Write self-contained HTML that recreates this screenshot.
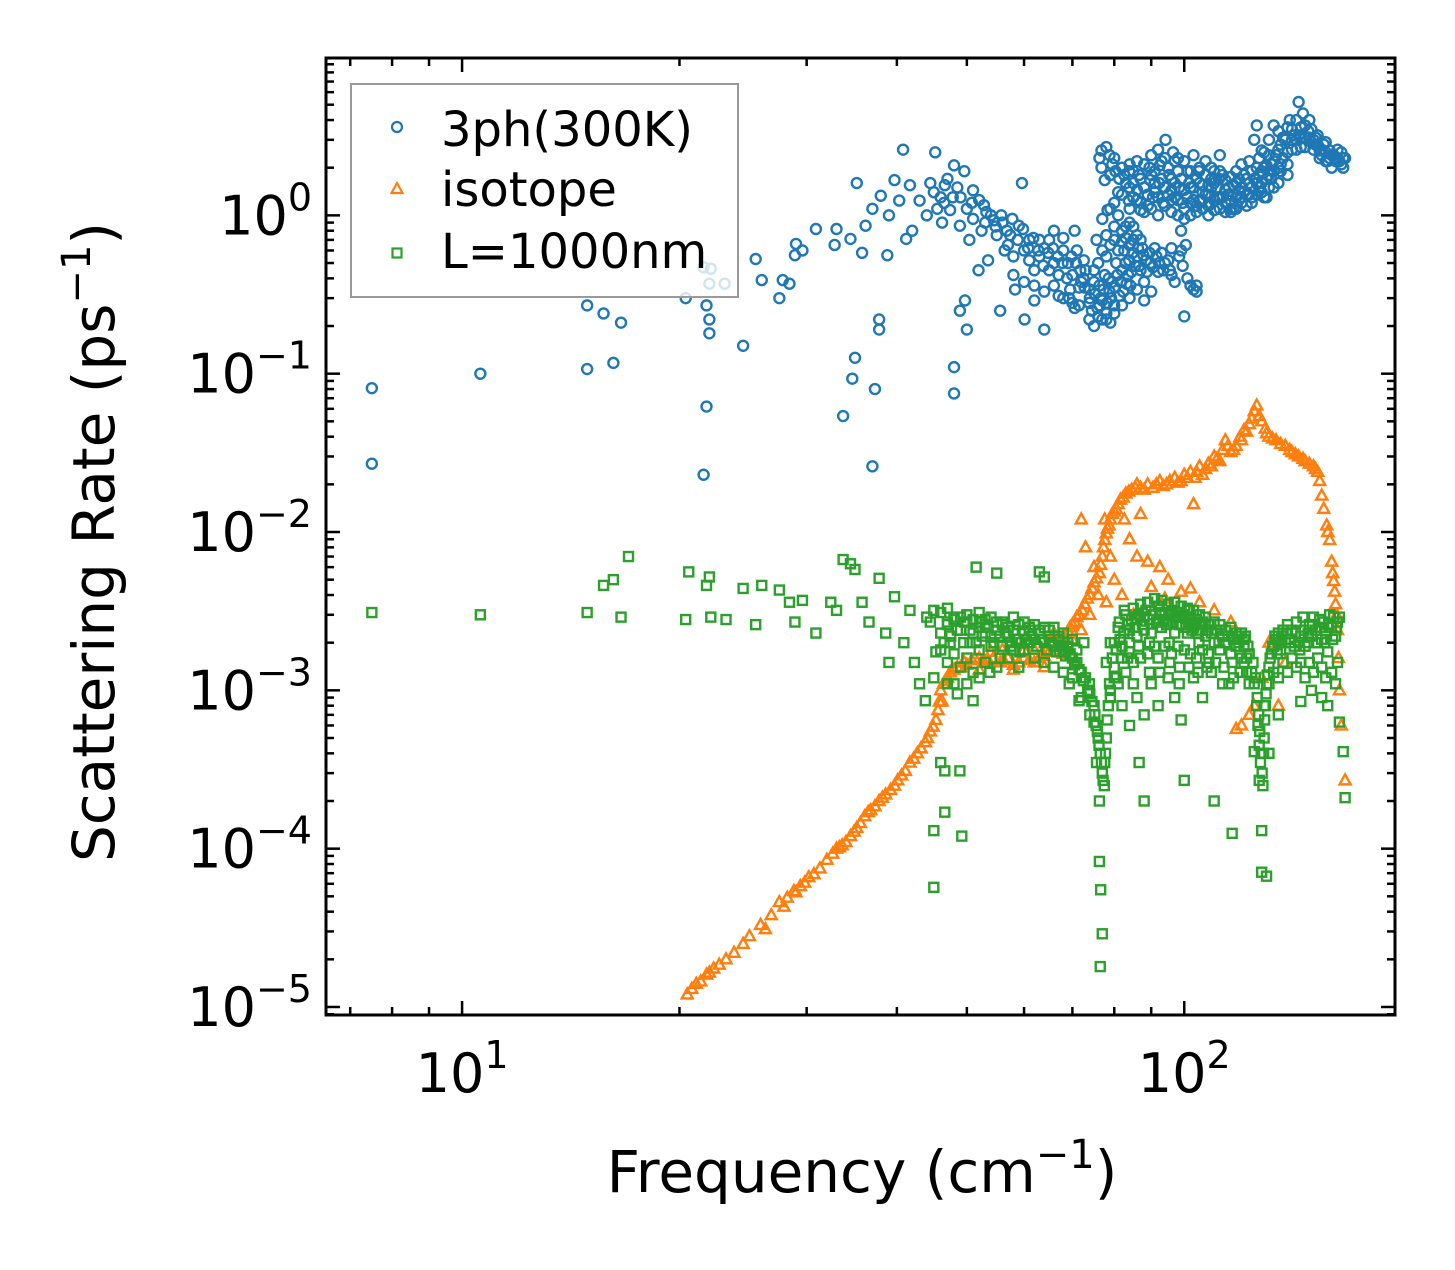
<!DOCTYPE html>
<html><head><meta charset="utf-8"><style>
body{margin:0;background:#fff}
svg text{font-family:"DejaVu Sans","Liberation Sans",sans-serif;fill:#000}
</style></head><body>
<svg id="chart" width="1455" height="1265" viewBox="0 0 1455 1265" xmlns="http://www.w3.org/2000/svg">
<rect x="0" y="0" width="1455" height="1265" fill="#fff"/>
<g id="marks"></g>
<g id="axes"></g>
<g id="legend">
<rect x="351" y="84" width="387" height="213" fill="#fff" fill-opacity="0.8" stroke="#999" stroke-width="2"/>
<g><circle cx="397" cy="127" r="5" fill="none" stroke="#1f77b4" stroke-width="2.2"/><text x="441" y="146" font-size="48">3ph(300K)</text></g>
<g><polygon points="397,183 391.5,193 402.5,193" fill="none" stroke="#ff7f0e" stroke-width="2.2"/><text x="441" y="206" font-size="48">isotope</text></g>
<g><rect x="392.5" y="248.5" width="9" height="9" fill="none" stroke="#2ca02c" stroke-width="2.2"/><text x="441" y="268" font-size="48">L=1000nm</text></g>
</g>
<text x="862" y="1192" font-size="58" text-anchor="middle">Frequency (cm<tspan font-size="40" dy="-24">−1</tspan><tspan dy="24">)</tspan></text>
<text transform="translate(114,542) rotate(-90)" font-size="58" text-anchor="middle">Scattering Rate (ps<tspan font-size="40" dy="-24">−1</tspan><tspan dy="24">)</tspan></text>
</svg>
<script>
const xTickValues=[10,100];
const xTickLabels=["1","2"];
const yTickValues=[1,0.1,0.01,0.001,0.0001,0.00001];
const yTickLabels=["0","−1","−2","−3","−4","−5"];
const xDomain=[6.48,195.8];
const yDomain=[0.0000089,9.86];

const series3ph=[[7.5,0.081],[7.5,0.027],[10.6,0.10],[14.9,0.27],[15.7,0.24],[14.9,0.107],[16.2,0.117],[16.6,0.21],[20.4,0.30],[21.6,0.47],[22.1,0.46],[22,0.37],[21.8,0.27],[22,0.22],[22,0.18],[23.1,0.37],[21.8,0.062],[21.6,0.023],[24.5,0.15],[25.5,0.53],[26,0.39],[27.5,0.30],[27.8,0.39],[28.4,0.37],[28.9,0.56],[29,0.66],[29.6,0.60],[30.9,0.82],[32.8,0.65],[33,0.82],[33.7,0.054],[34.5,0.71],[34.7,0.093],[35,0.126],[35.2,1.6],[35.8,0.58],[36.2,0.86],[37,1.1],[37.3,0.08],[37,0.026],[37.8,0.22],[37.8,0.19],[38,1.33],[38.8,0.56],[39,1.0],[39.7,1.67],[40.3,1.24],[40.8,2.6],[41.2,0.71],[41.7,1.55],[42,0.8],[43,1.24],[44,1.0],[44.5,1.6],[45.2,2.5],[46,1.3],[46.6,1.55],[47.4,1.08],[48,2.07],[48,0.075],[48,0.11],[48.9,0.86],[48.9,0.25],[49.6,1.9],[49.7,0.29],[50,0.19],[50.4,0.7],[51,1.44],[51.9,0.45],[52.8,1.16],[53.5,0.52],[54.5,0.93],[55.6,0.25],[56.4,0.6],[57.4,0.75],[58.3,0.34],[59,0.86],[59.6,1.6],[60.1,0.22],[61,0.52],[62,0.29],[63,0.7],[64,0.19],[65,0.45],[66,0.8],[67,0.31],[68,0.6],[69.5,0.34],[70.5,0.8],[71.5,0.27],[72.6,0.52],[73.9,0.22],[74,0.34],[75,0.45],[75.6,0.7],[76.3,0.27],
[45,1.4],[46.5,1.2],[47,1.7],[49,1.3],[50,1.1],[51,0.95],[52,1.25],[53,0.9],[54,1.0],[55,0.75],[56,0.9],[57,0.65],[58,0.55],[60,0.6],[61,0.7],[62,0.45],[63,0.55],[64,0.62],[65,0.7],[66,0.5],[67,0.42],[68,0.72],[69,0.5],[70,0.42],[71,0.6],[72,0.38],[73,0.45],
[45.5,1.1],[46.2,0.9],[47.8,1.3],[48.5,1.5],[50.8,1.2],[52.4,0.8],[53.2,1.05],[54.8,0.85],[55.8,1.0],[56.8,0.8],[57.8,0.95],[58.8,0.7],[59.8,0.82],[60.8,0.62],[61.8,0.72],[62.8,0.6],[63.8,0.48],[64.8,0.58],[65.8,0.62],[66.8,0.55],[67.8,0.5],[68.8,0.4],[69.8,0.55],[70.8,0.5],[71.8,0.45],[72.8,0.35],[58,0.42],[60,0.38],[62,0.36],[64,0.33],[66,0.36],[68,0.3],[70,0.28],
[69.3,0.30],[70.5,0.26],[71.5,0.35],[72.5,0.40],[73.9,0.28],[74.5,0.25],[75.2,0.32],[76.3,0.36],[77,0.29],[77.6,0.42],[78,0.24],[78.8,0.33],[79.5,0.38],[80,0.27],[80.5,0.5],[81.3,0.31],[82,0.45],[82.6,0.6],[83.2,0.37],[83.9,0.52],[84.5,0.44],[85,0.7],[86,0.55],[86.6,0.48],[87.5,0.62],[88.5,0.52],[89.5,0.58],[90.5,0.47],[91.5,0.55],[92.3,0.5],[93.5,0.45],[95,0.52],[96,0.42],[97,0.38],[98.4,0.55],[99.5,0.48],[101,0.4],[102,0.36],[103,0.34],[104,0.33],[100,0.23],[77,0.22],[79,0.21],[75,0.20],[88,0.29],[90,0.33],[96,0.62],[99,0.6],[82,0.8],[84,0.9],[78,0.75],[80,0.7],[77,0.95],[79,1.1],[81,1.0],[83,0.85],
[74,0.3],[75,0.38],[75.8,0.26],[76.6,0.3],[77.3,0.34],[78.2,0.28],[78.6,0.4],[79.2,0.3],[80.2,0.35],[80.8,0.42],[81.6,0.38],[82.3,0.33],[82.9,0.5],[83.6,0.42],[84.2,0.36],[84.8,0.58],[85.5,0.48],[86.3,0.62],[87,0.45],[87.8,0.56],[88.8,0.44],[89.8,0.5],[91,0.62],[92,0.44],[93,0.58],[94,0.5],[95.5,0.45],[76,0.5],[77,0.6],[78,0.55],[79,0.65],[80,0.85],[81,0.6],[82,0.68],[83,0.72],[84,0.65],[85,0.85],[86,0.75],[87,0.7],[76,0.23],[78,0.22],[80,0.24],[82,0.27],[84,0.3],[86,0.34],[88,0.38],
[76.8,2.57],[77.6,1.67],[78.3,1.08],[76.3,2.3],[76.8,2.0],[78,2.7],[78.8,2.4],[79.5,2.1],[80.3,1.9],[81.3,1.7],[82.6,1.8],[83.8,1.24],[84,1.5],[86,2.2],[87,1.08],[89.7,1.67],[91,1.4],[92.5,2.07],[94.2,3.0],[96,1.44],[97,2.2],[99,0.8],[100.5,0.65],[102,1.9],[104,0.36],[105,1.24],[107,2.2],[108,1.55],[110,1.08],[112,2.4],[114,1.67],[116,1.24],[118,1.9],[119,1.44],[121,1.8],[123,2.2],[125,3.0],[126,3.7],[128,2.57],[130,2.07],[131,3.0],[133,3.7],[135,3.4],[138,3.0],[140,4.0],[142,3.2],[144,5.2],[147,3.7],[149,4.0],[151,3.0],[154,2.57],[156,2.8],[159,2.57],[162,2.2],[164,2.2],[167,2.3],[166,2.0],[160,2.4],[157,2.2],[152,2.8],[146,4.4],[143,4.0],[139,3.6],[136,2.8],
[83.9,1.9],[85,1.6],[86.6,1.8],[88,1.5],[89.5,2.0],[90.5,1.3],[92.3,1.6],[93.5,1.2],[95.3,1.8],[96.5,2.5],[98.4,1.5],[99.5,1.2],[101.6,1.6],[103,2.4],[104.8,1.9],[106,1.4],[108.2,1.2],[109,2.0],[111.7,1.7],[113,1.3],[115.3,1.5],[117,1.1],[119,1.7],[120,2.1],[123,1.6],[124,1.3],[127,1.5],[128,1.9],[131,2.4],[132,1.7],[135,2.6],[136,2.1],[139,2.5],[141,3.0],[144,3.2],[145,2.7],[148.5,3.4],[150,2.9],[153,3.2],[155,2.4],[158,2.2],[160,2.0],[163,2.6],[165,2.1],
[85,1.3],[87,1.2],[89,1.15],[91,1.9],[93,1.7],[95,1.35],[97,1.6],[98,1.9],[100,2.2],[101,1.3],[103,1.5],[105,1.6],[107,1.35],[109,1.5],[111,1.3],[112,1.9],[114,1.45],[116,1.75],[118,1.3],[120,1.5],[122,1.7],[124,1.9],[126,1.6],[127,2.3],[129,2.5],[130,1.7],[132,2.1],[134,2.4],[137,3.1],[141,3.5],[143,2.6],[145,3.6],[147,3.1],[150,3.5],[152,3.1],[154,2.3],[157,2.5],
[90,2.4],[92,2.6],[94,2.3],[96,1.25],[98,1.25],[100,1.1],[102,1.2],[104,1.05],[106,1.1],[108,1.0],[110,1.6],[112,1.1],[114,1.2],[116,1.05],[118,1.6],[120,1.2],[122,1.35],[124,1.2],[126,2.0],[128,1.6],[129,1.3],[131,1.5],[133,1.9],[135,1.6],
[79,1.8],[80,2.3],[81,1.4],[82,2.0],[83,1.6],[84,2.1],[85,1.9],[86,1.45],[87,1.7],[88,2.1],[89,1.35],[90,1.8],[91,1.6],[92,1.3],[93,2.2],[94,1.5],[95,2.0],[96,1.7],[97,1.3],[98,2.3],[99,1.7],[100,1.45],[101,1.9],[102,1.5],[103,1.25],[104,1.7],[105,2.0],[106,1.55],[107,1.8],[108,1.35],[109,1.7],[110,1.9],[111,1.5],[113,1.8],[115,1.35],[117,1.55],[119,1.25],[121,1.4],[123,1.35],[125,1.7],[127,1.8],[129,2.0],[131,1.8],[133,2.2],[135,2.0],[137,2.3],[139,2.1],[141,2.6],[143,3.0],[145,3.1],[147,2.7],[149,3.1],[151,2.6],[153,2.8],[155,2.6],[157,2.9],[159,2.3],[161,2.4],[163,2.3],[165,2.5],[166,2.3],
[80,1.2],[82,1.35],[84,1.1],[86,1.25],[88,1.05],[90,1.1],[92,1.0],[94,1.15],[96,1.05],[98,1.0],[100,0.95],[102,1.0],[104,1.15],[106,1.25],[108,1.15],[110,1.25],[112,1.3],[114,1.05],[116,1.1],[118,1.1],[120,1.3],[122,1.15],[124,1.5],[126,1.35],[128,1.4],[130,1.3],[133,1.5],[136,1.9],[139,1.8]];

const seriesIso=[[20.5,1.2e-5],[20.8,1.3e-5],[21.4,1.45e-5],[21.8,1.6e-5],[22.3,1.75e-5],[23.2,2e-5],[24.5,2.5e-5],[25.9,3.3e-5],[26.3,3.1e-5],[27.5,4.6e-5],[28.2,4.9e-5],[28.8,5.4e-5],[29.4,5.8e-5],[30.2,6.6e-5],[31.3,7.5e-5],[33,1e-4],[33.6,1.05e-4],[34.5,1.2e-4],[35.2,1.35e-4],[36.1,1.6e-4],[36.8,1.75e-4],[37.8,2e-4],[38.6,2.2e-4],[39.7,2.5e-4],[40.6,2.9e-4],[41.7,3.5e-4],[42.7,4e-4],[43.8,4.7e-4],[44.5,5.5e-4],[45.3,6.5e-4],[45.6,7.5e-4],[46,1e-3],[46.2,8.5e-4],[46.7,1.15e-3],[47.4,1.3e-3],[48.5,1.4e-3],[49.6,1.5e-3],[50.8,1.55e-3],[52,1.6e-3],[53.5,1.55e-3],[55.6,1.5e-3],[57,1.6e-3],[59,1.5e-3],[61,1.55e-3],[63,1.6e-3],[65,1.75e-3],[67,1.9e-3],[68,2.2e-3],[69.5,2.5e-3],[70.5,2.7e-3],[71.5,3e-3],[72.8,3.5e-3],[74,4e-3],[75,4.8e-3],[76.3,5.5e-3],[77,7e-3],[77.6,8.9e-3],[78.3,1.05e-2],[79,1.2e-2],[80,1.35e-2],[81,1.5e-2],[82.3,1.65e-2],[83.8,1.8e-2],[85.5,1.9e-2],[87,1.9e-2],[89,2e-2],[90.5,1.9e-2],[92.5,2.1e-2],[94.5,2e-2],[97,2.2e-2],[99,2.1e-2],[102,2.4e-2],[103.5,2.2e-2],[105,2.6e-2],[107,2.5e-2],[110,3e-2],[112,2.8e-2],[114,3.8e-2],[116,3.2e-2],[118,3.5e-2],[119.5,4e-2],[121,4.4e-2],[123,4.8e-2],[125,5.8e-2],[126,6.3e-2],[128,5e-2],[129.5,4.5e-2],[131,4e-2],[134,3.8e-2],[138,3.5e-2],[141,3.2e-2],[144,3e-2],[147,2.8e-2],[151,2.6e-2],[153,2.4e-2],[154,2.1e-2],[155,1.7e-2],[156,1.4e-2],[157.5,1.1e-2],[159,8.9e-3],[160,6.5e-3],[161,4.9e-3],[162,3.5e-3],[163,2.4e-3],[163.5,1.6e-3],[164,1e-3],[167,2.7e-4],
[72,1.2e-2],[73,8e-3],[75,6e-3],[77.6,1.2e-2],[79,7e-3],[80,5e-3],[82.6,1.2e-2],[84,9e-3],[86,7e-3],[87,1.3e-2],[89,6.5e-3],[92.5,6e-3],[95,5e-3],[99,4.2e-3],[102,4.4e-3],[105,3.6e-3],[103,1.5e-2],[110,3.2e-3],[116,2.7e-3],[118,5.7e-4],[78,3.6e-3],[82,4e-3],[85,3e-3],[90,4.5e-3],[94,3.8e-3],[60,1.8e-3],[56,1.8e-3],[52,1.35e-3],[54,1.75e-3],[58,1.35e-3],[62,1.8e-3],[64,1.4e-3],[66,2.3e-3],[68,1.7e-3],[70,2.1e-3],[72,2.4e-3],[74,3e-3],[76,4e-3],[120,6e-4],[123,7e-4],[125,8e-4],[128,1.2e-3],[131,2e-3],[135,8e-4],[138,1.5e-3],
[21.1,1.4e-5],[22,1.65e-5],[22.7,1.85e-5],[23.8,2.2e-5],[25,2.8e-5],[26.8,3.8e-5],[27.9,4.3e-5],[29,5.3e-5],[29.8,6.1e-5],[30.7,6.9e-5],[32,8.5e-5],[32.6,9.3e-5],[33.3,1.02e-4],[34,1.1e-4],[34.9,1.28e-4],[35.6,1.45e-4],[36.5,1.7e-4],[37.3,1.85e-4],[38.2,2.1e-4],[39.2,2.35e-4],[40.1,2.7e-4],[41.1,3.1e-4],[42.2,3.7e-4],[43.2,4.3e-4],[44.1,5e-4],[44.9,5.9e-4],[45.8,8.5e-4],[46.4,1.1e-3],[47,1.2e-3],[48,1.35e-3],[49,1.4e-3],[50,1.45e-3],[51.3,1.6e-3],[52.8,1.5e-3],[54.4,1.6e-3],[56.2,1.55e-3],[58,1.45e-3],[60,1.6e-3],[62,1.5e-3],[64,1.65e-3],[66,1.8e-3],[67.5,2e-3],[69,2.35e-3],[70,2.6e-3],[71,2.9e-3],[72.2,3.2e-3],[73.4,3.8e-3],[74.5,4.4e-3],[75.6,5.1e-3],[76.6,6.2e-3],[77.3,8e-3],[78,9.8e-3],[78.7,1.1e-2],[79.5,1.3e-2],[80.5,1.4e-2],[81.6,1.6e-2],[83,1.75e-2],[84.6,1.85e-2],[86,2e-2],[88,1.85e-2],[91.5,2e-2],[93.5,1.95e-2],[95.5,2.1e-2],[98,2.05e-2],[100,2.3e-2],[101,2.2e-2],[104,2.4e-2],[106,2.3e-2],[108,2.7e-2],[109,2.6e-2],[111,2.9e-2],[113,3.3e-2],[115,3.5e-2],[117,3.3e-2],[120,3.8e-2],[122,4.3e-2],[124,5.2e-2],[127,5.4e-2],[130,4.2e-2],[132.5,3.9e-2],[136,3.6e-2],[140,3.3e-2],[142.5,3.1e-2],[146,2.9e-2],[149,2.7e-2],[152,2.5e-2],[158,1e-2],[160.5,5.5e-3],[161.5,4.2e-3],[162.5,3e-3],[165,6e-4]];

const seriesL=[[7.5,3.1e-3],[10.6,3e-3],[14.9,3.1e-3],[16.6,2.9e-3],[17,7e-3],[16.2,5e-3],[15.7,4.6e-3],[20.6,5.6e-3],[21.8,4.6e-3],[22,5.2e-3],[20.4,2.8e-3],[22.1,2.9e-3],[23.2,2.8e-3],[24.5,4.4e-3],[25.5,2.6e-3],[26,4.6e-3],[27.5,4.3e-3],[28.4,3.6e-3],[28.9,2.7e-3],[29.6,3.7e-3],[30.9,2.3e-3],[32.4,3.6e-3],[33,3.2e-3],[33.7,6.7e-3],[34.5,6.3e-3],[35,5.8e-3],[35.8,3.6e-3],[36.6,2.7e-3],[37.8,5.1e-3],[38.6,2.3e-3],[39,1.5e-3],[39.7,3.9e-3],[40.9,2e-3],[41.7,3.2e-3],[42.3,1.5e-3],[43,1.1e-3],[43.8,8.6e-4],[44.5,2.7e-3],[45.3,1.75e-3],[46,3.5e-4],[46.6,3.1e-4],[46.6,1.7e-4],[45,1.3e-4],[45,5.7e-5],[47.4,2e-3],[48,1.1e-3],[48.9,3.1e-4],[49.2,1.2e-4],[49.6,2.7e-3],[50.5,2e-3],[51,8.6e-4],[51.5,6e-3],[52.1,2.7e-3],[53,2.3e-3],[53.8,1.3e-3],[55.6,1.6e-3],[55,5.5e-3],[57.4,2e-3],[59.2,1.75e-3],[61.1,2e-3],[63,5.6e-3],[64,5.2e-3],[65.1,2e-3],[67.2,1.75e-3],[69.3,1.1e-3],[71.5,8.6e-4],[72.6,2e-3],[73.9,1.1e-3],[75,6.3e-4],[75.6,3.5e-4],[76.3,2e-4],[76.3,8.3e-5],[76.6,5.5e-5],[77,2.9e-5],[76.5,1.8e-5],[77.6,3.5e-4],[78.8,1.1e-3],[80,2e-3],[81.3,2.7e-3],[82.6,3.2e-3],[83.9,1.75e-3],[85,1.1e-3],[86.6,3.5e-4],[88,2e-4],[89.5,2e-3],[92.3,2.7e-3],[95.3,2e-3],[98.4,1.1e-3],[100,2.7e-4],[101.6,3.2e-3],[104.8,2e-3],[108.2,1.5e-3],[110,2e-4],[111.7,2e-3],[115.3,1.1e-3],[116.5,1.25e-4],[119,2e-3],[121,1.5e-3],[123,1.1e-3],[125,4.1e-4],[127,2.7e-4],[128,1.3e-4],[128,7.1e-5],[130,6.7e-5],[131,4e-4],[129,8e-4],[135,2e-3],[139,2.3e-3],[144,2e-3],[148.5,2.3e-3],[153,2e-3],[158,1.75e-3],[163,1.5e-3],[164,6.3e-4],[166,4.1e-4],[167,2.1e-4],
[46,2.3e-3],[47,2.6e-3],[48,2.9e-3],[49,2.4e-3],[50,2.7e-3],[51,2.3e-3],[52,2.5e-3],[53,2.8e-3],[54,2.2e-3],[55,2.4e-3],[56,2.6e-3],[57,2.2e-3],[58,2.4e-3],[59,2.1e-3],[60,2.3e-3],[61,2.5e-3],[62,2.1e-3],[63,2.3e-3],[64,2.0e-3],[65,2.2e-3],[66,1.9e-3],[67,2.1e-3],[68,1.8e-3],[69,1.9e-3],[70,1.6e-3],[71,1.5e-3],[72,1.3e-3],[73,1.2e-3],[74,9.5e-4],[75,8e-4],[75.5,6e-4],[76,5e-4],[76.5,4e-4],[77,3e-4],[77.5,2.5e-4],[78,5e-4],[78.5,8e-4],
[46,1.8e-3],[47,1.5e-3],[48,1.7e-3],[49,1.4e-3],[50,1.6e-3],[51,1.3e-3],[52,1.8e-3],[53,1.5e-3],[54,1.9e-3],[55,1.4e-3],[56,1.9e-3],[57,1.6e-3],[58,1.8e-3],[59,1.4e-3],[60,1.8e-3],[62,1.6e-3],[64,1.5e-3],[66,1.4e-3],[68,1.3e-3],[70,1.2e-3],[72,9e-4],[74,7e-4],
[44,2.9e-3],[45,3.2e-3],[46,3.1e-3],[47,3.3e-3],[48,2.8e-3],[50,3e-3],[52,3.1e-3],[54,2.9e-3],[56,2.7e-3],[58,2.9e-3],[60,2.7e-3],[62,2.6e-3],[64,2.5e-3],[66,2.5e-3],[68,2.3e-3],[70,2.1e-3],[45,1.2e-3],[47,1.1e-3],[48.5,9.5e-4],[50,1.1e-3],[52,1.2e-3],
[46.5,2.0e-3],[47.5,2.2e-3],[48.5,2.4e-3],[49.5,2.0e-3],[50.5,2.4e-3],[51.5,2.0e-3],[52.5,2.2e-3],[53.5,2.5e-3],[54.5,2.0e-3],[55.5,2.2e-3],[56.5,2.3e-3],[57.5,1.9e-3],[58.5,2.1e-3],[59.5,2.0e-3],[60.5,2.1e-3],[61.5,2.2e-3],[62.5,1.9e-3],[63.5,2.1e-3],[64.5,1.8e-3],[65.5,2.0e-3],[66.5,1.75e-3],[67.5,1.9e-3],[68.5,1.65e-3],[69.5,1.7e-3],[70.5,1.45e-3],[71.5,1.35e-3],[72.5,1.15e-3],[73.5,1.0e-3],[74.5,8.5e-4],[75.2,7e-4],[75.8,5.5e-4],[76.2,4.5e-4],[76.8,3.5e-4],[77.2,2.7e-4],[77.8,4e-4],[78.2,6.5e-4],[79,9e-4],[47,2.7e-3],[49,2.9e-3],[51,2.8e-3],[53,2.6e-3],[55,2.7e-3],[57,2.5e-3],[59,2.6e-3],[61,2.4e-3],[63,2.4e-3],[65,2.4e-3],[67,2.2e-3],[69,2.0e-3],[71,1.8e-3],
[78,1.5e-3],[79,2e-3],[80,1.2e-3],[81,2.5e-3],[82,1.6e-3],[83,3e-3],[84,2.4e-3],[85,3.3e-3],[86,2.8e-3],[87,3.5e-3],[88,2.9e-3],[89,3.6e-3],[90,3.2e-3],[91,3.8e-3],[92,3.4e-3],[93,3.7e-3],[94,3.1e-3],[95,3.5e-3],[96,3.2e-3],[97,3.6e-3],[98,3.1e-3],[99,3.4e-3],[100,3.0e-3],[101,3.3e-3],[102,2.9e-3],[103,3.2e-3],[104,2.8e-3],[105,3.0e-3],[106,2.7e-3],[107,2.9e-3],[108,2.6e-3],[110,2.7e-3],[112,2.6e-3],[114,2.4e-3],[116,2.5e-3],[118,2.3e-3],[120,2.3e-3],[121,2.1e-3],
[79,1.0e-3],[80,1.4e-3],[81,1.1e-3],[82,1.9e-3],[83,1.3e-3],[84,2.0e-3],[85,1.5e-3],[86,2.2e-3],[87,1.6e-3],[88,2.4e-3],[89,1.7e-3],[90,2.3e-3],[91,1.9e-3],[92,1.6e-3],[93,2.5e-3],[94,1.9e-3],[95,2.7e-3],[96,1.7e-3],[97,2.3e-3],[98,1.9e-3],[99,2.6e-3],[100,1.8e-3],[101,2.3e-3],[102,1.7e-3],[103,2.5e-3],[104,1.6e-3],[105,2.4e-3],[106,1.8e-3],[107,2.2e-3],[108,1.7e-3],[110,2.0e-3],[112,1.8e-3],[114,2.0e-3],[116,1.7e-3],[118,1.9e-3],[120,1.6e-3],[82,8e-4],[84,6e-4],[86,9e-4],[88,7e-4],[90,1.1e-3],[92,8e-4],[95,1.2e-3],[97,9e-4],[99,6.5e-4],[103,1.2e-3],[106,9e-4],[109,1.3e-3],[113,1.1e-3],[117,1.2e-3],
[79.5,1.6e-3],[80.5,1.8e-3],[81.5,2.1e-3],[82.5,2.3e-3],[83.5,2.6e-3],[84.5,2.8e-3],[85.5,2.5e-3],[86.5,3.0e-3],[87.5,2.6e-3],[88.5,3.2e-3],[89.5,2.8e-3],[90.5,3.0e-3],[91.5,2.7e-3],[92.5,3.1e-3],[93.5,2.8e-3],[94.5,2.6e-3],[95.5,3.0e-3],[96.5,2.7e-3],[97.5,2.9e-3],[98.5,2.6e-3],[99.5,2.9e-3],[100.5,2.5e-3],[101.5,2.8e-3],[102.5,2.4e-3],[103.5,2.7e-3],[104.5,2.3e-3],[105.5,2.6e-3],[107.5,2.4e-3],[109,2.3e-3],[111,2.4e-3],[113,2.2e-3],[115,2.2e-3],[117,2.1e-3],[119,2.2e-3],[80.5,1.2e-3],[83.5,1.6e-3],[86.5,1.9e-3],[89.5,1.3e-3],[92.5,1.3e-3],[95.5,1.5e-3],[98.5,1.4e-3],[101.5,1.4e-3],[104.5,1.3e-3],[107.5,1.4e-3],[110.5,1.5e-3],[113.5,1.4e-3],[116.5,1.5e-3],[119.5,1.3e-3],[122,1.3e-3],[121.5,2.2e-3],[122.5,1.9e-3],
[121,1.9e-3],[122,1.6e-3],[123,1.7e-3],[124,1.3e-3],[125,1.1e-3],[126,8e-4],[126.5,6e-4],[127,4.5e-4],[127.5,3.5e-4],[128.5,2.5e-4],[129,5e-4],[129.5,8e-4],[130,1.1e-3],[131,1.4e-3],[132,1.7e-3],[133,1.9e-3],[134,2.1e-3],[135,2.3e-3],[136,1.8e-3],[137,2.4e-3],[138,2.0e-3],[139,2.6e-3],[140,2.1e-3],[141,2.4e-3],[142,1.9e-3],[143,2.7e-3],[145,2.2e-3],[146,2.9e-3],[147,1.9e-3],[149,2.6e-3],[150,2.2e-3],[151,2.9e-3],[152,2.4e-3],[154,2.8e-3],[155,2.1e-3],[156,2.7e-3],[157,2.3e-3],[159,3.0e-3],[160,2.5e-3],[161,2.9e-3],[162,2.2e-3],[163,2.7e-3],[164,2.9e-3],[131,1.1e-3],[133,1.3e-3],[135,1.2e-3],[137,1.5e-3],[139,1.3e-3],[141,1.6e-3],[143,1.4e-3],[145,1.5e-3],[147,1.2e-3],[149,1.5e-3],[151,1.3e-3],[153,1.6e-3],[155,1.4e-3],[157,1.2e-3],[160,1.3e-3],[162,1.1e-3],[150,1e-3],[145,8.5e-4],[155,9e-4],[158,8e-4],[135,7e-4],
[124.5,1.5e-3],[125.5,1.2e-3],[126.2,9e-4],[126.8,7e-4],[127.2,5.5e-4],[127.8,4e-4],[128.2,3e-4],[128.8,4e-4],[129.2,6.5e-4],[129.8,9.5e-4],[130.5,1.25e-3],[131.5,1.6e-3],[132.5,1.9e-3],[133.5,2.2e-3],[134.5,1.7e-3],[136.5,2.2e-3],[138.5,2.3e-3],[140.5,2.0e-3],[142.5,2.3e-3],[144.5,1.8e-3],[146.5,2.4e-3],[148.5,2.0e-3],[150.5,2.6e-3],[152.5,2.0e-3],[154.5,2.5e-3],[156.5,2.0e-3],[158.5,2.6e-3],[160.5,2.1e-3],[162.5,2.5e-3]];

const PL=326,PR=1395,PT=58,PB=1015;
function xs(v){return PL+(Math.log10(v)-Math.log10(xDomain[0]))/(Math.log10(xDomain[1])-Math.log10(xDomain[0]))*(PR-PL);}
function ys(v){return PB-(Math.log10(v)-Math.log10(yDomain[0]))/(Math.log10(yDomain[1])-Math.log10(yDomain[0]))*(PB-PT);}
const NS="http://www.w3.org/2000/svg";
const marks=document.getElementById('marks');
const axes=document.getElementById('axes');
function mk(tag,attrs,parent){const e=document.createElementNS(NS,tag);for(const k in attrs)e.setAttribute(k,attrs[k]);parent.appendChild(e);return e;}

const g1=mk('g',{},marks);


series3ph.forEach(p=>{const c=mk('circle',{cx:xs(p[0]),cy:ys(p[1]),r:5,fill:'none',stroke:'#1f77b4','stroke-width':2.4},g1);

});
const g2=mk('g',{},marks);


seriesIso.forEach(p=>{const x=xs(p[0]),y=ys(p[1]);const t=mk('polygon',{points:`${x},${y-6} ${x-5.5},${y+4} ${x+5.5},${y+4}`,fill:'none',stroke:'#ff7f0e','stroke-width':2.4},g2);

});
const g3=mk('g',{},marks);


seriesL.forEach(p=>{const x=xs(p[0]),y=ys(p[1]);const r=mk('rect',{x:x-4.5,y:y-4.5,width:9,height:9,fill:'none',stroke:'#2ca02c','stroke-width':2.4},g3);

});

const fr=mk('rect',{x:PL,y:PT,width:PR-PL,height:PB-PT,fill:'none',stroke:'#000','stroke-width':3},axes);


for(let d=1;d<=100;d*=10){for(let m=1;m<10;m++){const v=d*m;if(v<xDomain[0]||v>xDomain[1])continue;const x=xs(v);const L=m===1?14:8;
mk('line',{x1:x,x2:x,y1:PB,y2:PB-L,stroke:'#000','stroke-width':2.5},axes);
mk('line',{x1:x,x2:x,y1:PT,y2:PT+L,stroke:'#000','stroke-width':2.5},axes);}}
xTickValues.forEach((v,i)=>{const t=mk('text',{x:xs(v),y:1092,'font-size':54,'text-anchor':'middle'},axes);


t.innerHTML='10<tspan font-size="38" dy="-24">'+xTickLabels[i]+'</tspan>';});
for(let d=1e-6;d<=10;d*=10){for(let m=1;m<10;m++){const v=d*m;if(v<yDomain[0]||v>yDomain[1])continue;const y=ys(v);const L=m===1?14:8;
mk('line',{x1:PL,x2:PL+L,y1:y,y2:y,stroke:'#000','stroke-width':2.5},axes);
mk('line',{x1:PR,x2:PR-L,y1:y,y2:y,stroke:'#000','stroke-width':2.5},axes);}}
yTickValues.forEach((v,i)=>{const t=mk('text',{x:312,y:ys(v)+19,'font-size':54,'text-anchor':'end'},axes);


t.innerHTML='10<tspan font-size="38" dy="-24">'+yTickLabels[i]+'</tspan>';});
</script>
</body></html>
